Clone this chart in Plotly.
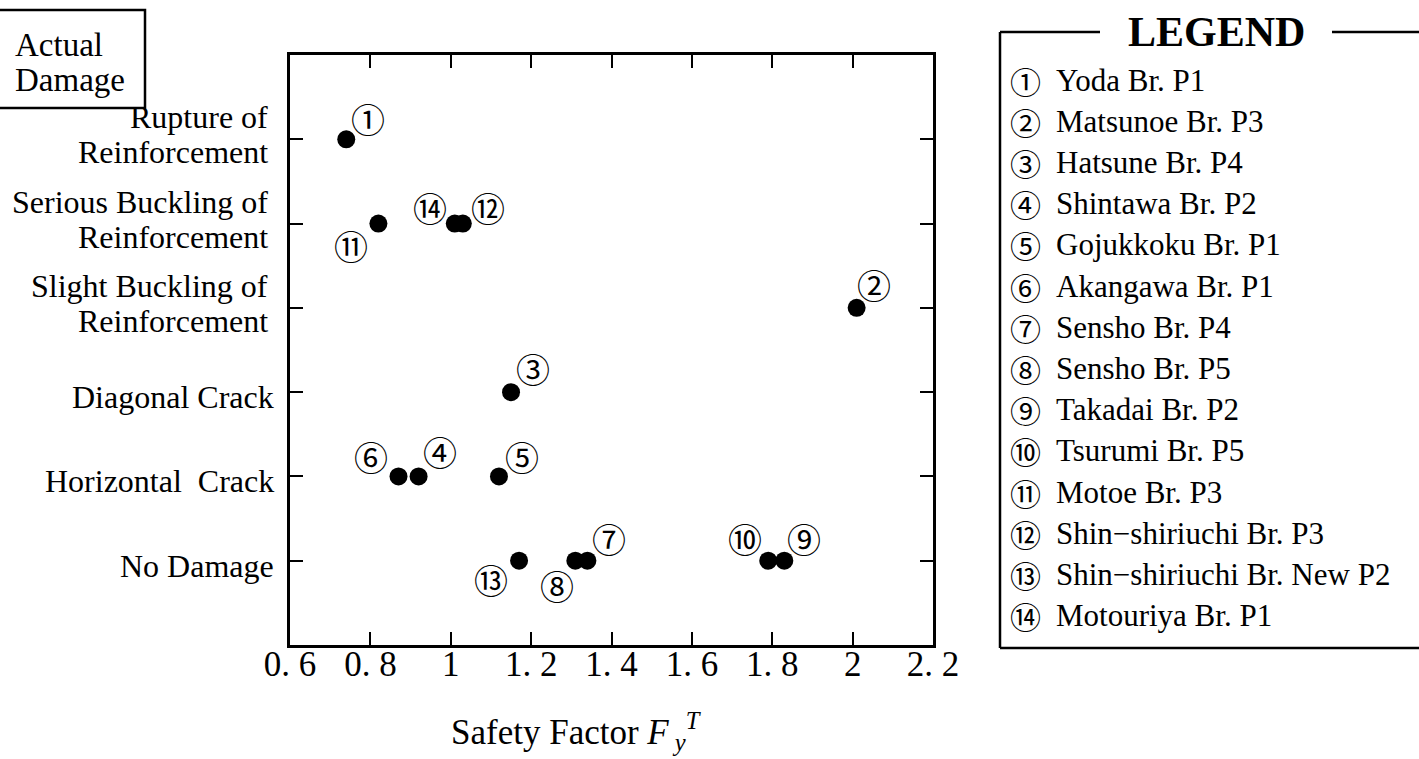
import plotly.graph_objects as go

# ---- data -------------------------------------------------------------
damage_levels = [
    "No Damage",
    "Horizontal  Crack",
    "Diagonal Crack",
    "Slight Buckling of<br>Reinforcement",
    "Serious Buckling of<br>Reinforcement",
    "Rupture of<br>Reinforcement",
]

pier_no = [1, 2, 3, 4, 5, 6, 7, 8, 9, 10, 11, 12, 13, 14]
pier_names = [
    "Yoda Br. P1",
    "Matsunoe Br. P3",
    "Hatsune Br. P4",
    "Shintawa Br. P2",
    "Gojukkoku Br. P1",
    "Akangawa Br. P1",
    "Sensho Br. P4",
    "Sensho Br. P5",
    "Takadai Br. P2",
    "Tsurumi Br. P5",
    "Motoe Br. P3",
    "Shin\u2212shiriuchi Br. P3",
    "Shin\u2212shiriuchi Br. New P2",
    "Motouriya Br. P1",
]
safety_factor = [0.74, 2.01, 1.15, 0.92, 1.12, 0.87, 1.34, 1.31, 1.83, 1.79, 0.82, 1.03, 1.17, 1.01]
actual_damage = [
    "Rupture of<br>Reinforcement",
    "Slight Buckling of<br>Reinforcement",
    "Diagonal Crack",
    "Horizontal  Crack",
    "Horizontal  Crack",
    "Horizontal  Crack",
    "No Damage",
    "No Damage",
    "No Damage",
    "No Damage",
    "Serious Buckling of<br>Reinforcement",
    "Serious Buckling of<br>Reinforcement",
    "No Damage",
    "Serious Buckling of<br>Reinforcement",
]

x_ticks = [0.6, 0.8, 1.0, 1.2, 1.4, 1.6, 1.8, 2.0, 2.2]
x_tick_text = ["0. 6", "0. 8", "1", "1. 2", "1. 4", "1. 6", "1. 8", "2", "2. 2"]

# ---- styling ----------------------------------------------------------
CIRCLED = "\u2460\u2461\u2462\u2463\u2464\u2465\u2466\u2467\u2468\u2469\u246a\u246b\u246c\u246d"
# pixel offset (right, up) of each number tag from its point
tag_offsets = [
    (22, 21), (17, 23), (22, 24), (21, 25), (23, 20), (-28, 20), (22, 22),
    (-18, -25), (20, 22), (-23, 22), (-27, -22), (25, 16), (-28, -19), (-25, 16),
]

W, H = 1419, 759
L, R, T, B = 290, 933, 55, 645
SERIF = "Liberation Serif"
NUMFONT = "Noto Sans CJK JP"


def px(x):
    return (x - L) / (R - L)


def py(y):
    return (B - y) / (B - T)


def text_ann(x, y, text, size, xanchor="left", bold=False, **kw):
    return dict(
        x=px(x), y=py(y), xref="paper", yref="paper", xanchor=xanchor, yanchor="middle",
        text=f"<b>{text}</b>" if bold else text, showarrow=False,
        font=dict(family=kw.pop("family", SERIF), size=size, color="black"), **kw,
    )


y_level = [damage_levels.index(d) + 1 for d in actual_damage]

fig = go.Figure()
fig.add_trace(
    go.Scatter(
        x=safety_factor,
        y=y_level,
        mode="markers",
        marker=dict(color="black", size=18, line=dict(width=0)),
        hoverinfo="skip",
        showlegend=False,
    )
)

annotations = []
for n, xv, yv, (dx, dy) in zip(pier_no, safety_factor, y_level, tag_offsets):
    annotations.append(
        dict(
            x=xv, y=yv, xref="x", yref="y", text=CIRCLED[n - 1], showarrow=False,
            xshift=dx, yshift=dy, font=dict(family=NUMFONT, size=34, color="black"),
        )
    )

# damage-level labels, one annotation per text line for tight leading
for lvl, label in enumerate(damage_levels, start=1):
    lines = label.split("<br>")
    if len(lines) == 1:
        placements = [(276, -5)]
    else:
        placements = [(270, 22), (270, -13)]
    for line, (xr, dy) in zip(lines, placements):
        annotations.append(
            dict(
                x=px(xr), y=lvl, xref="paper", yref="y", xanchor="right", yanchor="middle",
                text=line, showarrow=False, yshift=dy,
                font=dict(family=SERIF, size=32, color="black"),
            )
        )

# "Actual Damage" caption box
annotations.append(text_ann(13, 45, "Actual", 33))
annotations.append(text_ann(13, 80, "Damage", 33))

# axis title
annotations.append(
    text_ann(576, 731, "Safety Factor <i>F</i><sub><i> y</i></sub><sup><i>T</i></sup>", 35,
             xanchor="center")
)

# legend panel
annotations.append(text_ann(1216, 32, "LEGEND", 42, xanchor="center", bold=True))
row0, row_step = 80, 41.2
for i, (n, name) in enumerate(zip(pier_no, pier_names)):
    yy = row0 + i * row_step
    annotations.append(text_ann(1025, yy, CIRCLED[n - 1], 31, xanchor="center", family=NUMFONT))
    annotations.append(text_ann(1054, yy, name, 31))

line_style = dict(color="black", width=2.5)
shapes = [
    dict(type="rect", xref="paper", yref="paper", x0=px(-5), x1=px(145), y0=py(10), y1=py(108),
         line=line_style),
    dict(type="line", xref="paper", yref="paper", x0=px(1000), x1=px(1000), y0=py(32), y1=py(648),
         line=line_style),
    dict(type="line", xref="paper", yref="paper", x0=px(1000), x1=px(1419), y0=py(648), y1=py(648),
         line=line_style),
    dict(type="line", xref="paper", yref="paper", x0=px(1000), x1=px(1100), y0=py(32), y1=py(32),
         line=line_style),
    dict(type="line", xref="paper", yref="paper", x0=px(1332), x1=px(1419), y0=py(32), y1=py(32),
         line=line_style),
]

fig.update_layout(
    width=W,
    height=H,
    margin=dict(l=L, r=W - R, t=T, b=H - B, pad=0),
    paper_bgcolor="white",
    plot_bgcolor="white",
    showlegend=False,
    annotations=annotations,
    shapes=shapes,
    xaxis=dict(
        range=[0.6, 2.2],
        tickvals=x_ticks,
        ticktext=x_tick_text,
        ticks="inside",
        ticklen=13,
        tickwidth=1.5,
        tickcolor="black",
        showline=True,
        linewidth=2.5,
        linecolor="black",
        mirror="ticks",
        showgrid=False,
        zeroline=False,
        ticklabelstandoff=-14,
        tickfont=dict(family=SERIF, size=35, color="black"),
    ),
    yaxis=dict(
        range=[0, 7],
        tickvals=list(range(1, len(damage_levels) + 1)),
        ticks="inside",
        ticklen=13,
        tickwidth=1.5,
        tickcolor="black",
        showline=True,
        linewidth=2.5,
        linecolor="black",
        mirror="ticks",
        showgrid=False,
        zeroline=False,
        showticklabels=False,
    ),
)

fig.write_html("out.html")
